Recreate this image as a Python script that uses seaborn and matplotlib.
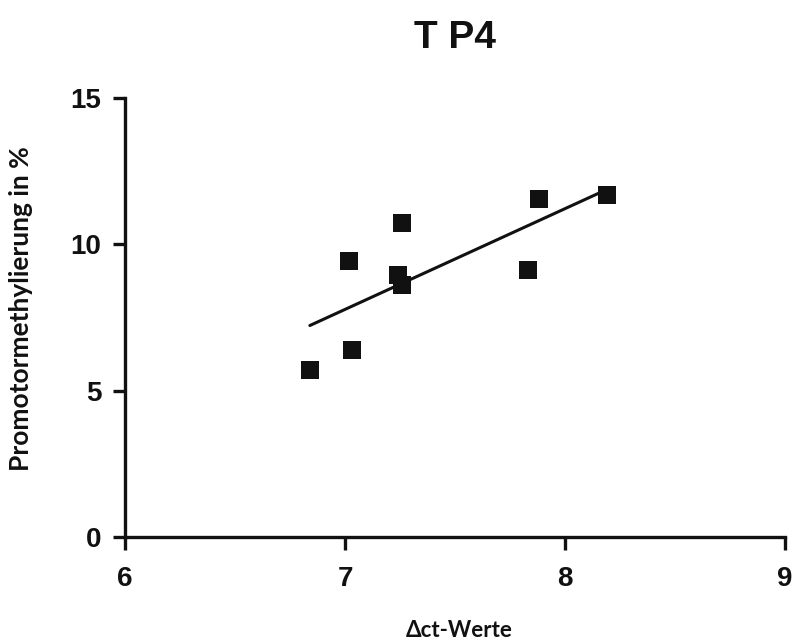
import matplotlib
matplotlib.use("Agg")
import matplotlib.pyplot as plt
import seaborn as sns
import numpy as np
import pandas as pd

# Data
delta_ct = [6.84, 7.03, 7.02, 7.26, 7.24, 7.26, 7.83, 7.88, 8.19]
methylation = [5.71, 6.41, 9.45, 10.74, 8.97, 8.61, 9.12, 11.55, 11.68]
x_ticks = [6, 7, 8, 9]
y_ticks = [0, 5, 10, 15]
title = "T P4"
x_label = "\u0394ct-Werte"
y_label = "Promotormethylierung in %"

df = pd.DataFrame({"dct": delta_ct, "meth": methylation})

sns.set_theme(style="ticks")
plt.rcParams["font.family"] = ["Liberation Sans", "DejaVu Sans"]

fig = plt.figure(figsize=(7.92, 6.41), dpi=100)
ax = fig.add_axes([0.158, 0.162, 0.833, 0.685])

sns.regplot(data=df, x="dct", y="meth", ax=ax, ci=None, marker="s",
            color="#111111",
            scatter_kws={"s": 170, "linewidths": 0, "alpha": 1},
            line_kws={"lw": 2.2, "color": "#111111"})

ax.set_xlim(6, 9)
ax.set_ylim(0, 15)
ax.set_xticks(x_ticks)
ax.set_yticks(y_ticks)
ax.set_xticklabels([str(t) for t in x_ticks], fontsize=20, fontweight="bold")
ax.set_yticklabels([str(t) for t in y_ticks], fontsize=20, fontweight="bold")

for side in ["top", "right"]:
    ax.spines[side].set_visible(False)
for side in ["left", "bottom"]:
    ax.spines[side].set_linewidth(2.4)
    ax.spines[side].set_color("#111111")
ax.tick_params(axis="both", direction="out", length=9, width=2.4,
               color="#111111", labelcolor="#111111")
ax.tick_params(axis="x", pad=12)
ax.tick_params(axis="y", pad=8)

ax.set_xlabel("")
ax.set_ylabel("")
fig.text(0.58, 0.016, x_label, fontsize=16, fontweight="bold",
         family=["Lato", "DejaVu Sans"], ha="center", va="center", color="#111111")
fig.text(0.027, 1 - 309 / 641, y_label, fontsize=19, fontweight="bold", rotation=90,
         family=["Lato", "DejaVu Sans"], ha="center", va="center", color="#111111")
fig.text(0.575, 1 - 38 / 641, title, fontsize=28, fontweight="bold",
         ha="center", va="center", color="#111111")

fig.savefig("out.png", dpi=100, facecolor="white")
